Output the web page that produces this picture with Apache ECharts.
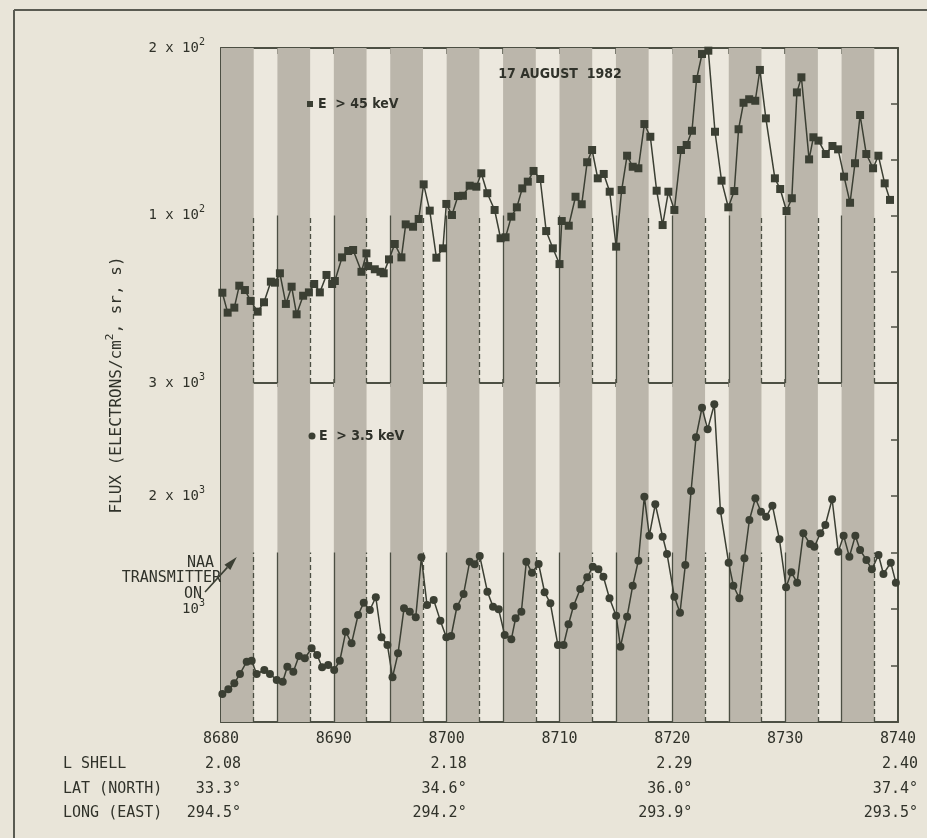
<!DOCTYPE html>
<html>
<head>
<meta charset="utf-8">
<title>Electron flux, 17 August 1982</title>
<script src="https://cdn.jsdelivr.net/npm/echarts/dist/echarts.min.js"></script>
<style>
  html, body { margin: 0; padding: 0; background: #e9e5d9; }
  #chart { width: 927px; height: 838px; }
</style>
</head>
<body>
<div id="chart"></div>
<script>
// Orbit axis
const orbitMin = 8680;
const orbitMax = 8740;
const orbitStep = 5;
const orbitLabels = [8680, 8690, 8700, 8710, 8720, 8730, 8740];

// NAA transmitter-on intervals (start orbit, length in orbits)
const bandStarts = [8680, 8685, 8690, 8695, 8700, 8705, 8710, 8715, 8720, 8725, 8730, 8735];
const bandLength = 2.9;

// E > 45 keV channel
const hiOrbit = [8680.12,8680.59,8681.18,8681.62,8682.12,8682.63,8683.25,8683.81,8684.42,8684.78,
  8685.22,8685.75,8686.26,8686.70,8687.28,8687.79,8688.26,8688.76,8689.35,8689.85,
  8690.09,8690.73,8691.27,8691.71,8692.45,8692.89,8693.04,8693.63,8694.13,8694.42,
  8694.89,8695.40,8695.99,8696.37,8697.02,8697.52,8697.96,8698.50,8699.09,8699.67,
  8699.97,8700.47,8701.00,8701.44,8702.04,8702.63,8703.07,8703.60,8704.25,8704.78,
  8705.22,8705.73,8706.22,8706.70,8707.19,8707.70,8708.29,8708.82,8709.41,8710.00,
  8710.20,8710.82,8711.42,8711.97,8712.45,8712.89,8713.39,8713.92,8714.45,8715.02,
  8715.51,8715.99,8716.49,8716.99,8717.52,8718.05,8718.61,8719.14,8719.65,8720.18,
  8720.77,8721.27,8721.74,8722.15,8722.63,8723.19,8723.78,8724.36,8724.96,8725.49,
  8725.87,8726.31,8726.81,8727.35,8727.76,8728.29,8729.09,8729.56,8730.12,8730.59,
  8731.04,8731.44,8732.12,8732.50,8732.95,8733.60,8734.19,8734.69,8735.22,8735.75,
  8736.19,8736.64,8737.19,8737.79,8738.26,8738.82,8739.29];
const hiFlux = [53.9,42.0,45.0,58.1,55.5,49.0,42.6,48.2,60.5,59.9,
  65.5,47.2,57.5,41.0,52.1,54.1,59.1,54.1,64.5,59.1,
  60.9,75.0,78.8,79.4,66.4,77.4,69.8,67.9,66.4,65.5,
  73.8,83.0,75.0,94.7,93.3,97.9,118.6,102.9,74.8,80.4,
  106.9,100.3,111.6,111.8,117.8,117.2,125.2,113.3,103.3,86.4,
  87.0,99.3,104.9,116.2,120.2,126.6,121.8,90.7,80.4,71.0,
  96.7,93.9,111.2,106.7,131.8,139.1,122.2,124.8,114.2,81.4,
  115.2,135.7,129.1,128.2,154.6,147.0,114.8,94.3,114.2,103.3,
  139.1,142.1,150.6,181.5,196.4,198.4,150.0,120.8,104.9,114.6,
  151.5,167.3,169.4,168.5,186.9,158.0,122.2,115.8,102.7,110.3,
  173.5,182.5,133.5,146.7,144.7,136.7,141.5,139.5,123.2,107.6,
  131.2,160.0,136.7,128.2,135.7,119.2,109.3];

// E > 3.5 keV channel
const loOrbit = [8680.12,8680.65,8681.18,8681.68,8682.28,8682.72,8683.16,8683.84,8684.34,8684.94,
  8685.47,8685.88,8686.41,8686.91,8687.43,8688.03,8688.52,8688.96,8689.50,8690.03,
  8690.53,8691.06,8691.57,8692.15,8692.65,8693.19,8693.72,8694.22,8694.75,8695.20,
  8695.69,8696.22,8696.73,8697.26,8697.76,8698.26,8698.85,8699.44,8699.97,8700.40,
  8700.91,8701.50,8702.04,8702.48,8702.93,8703.61,8704.11,8704.61,8705.14,8705.73,
  8706.11,8706.62,8707.06,8707.56,8708.15,8708.68,8709.19,8709.86,8710.36,8710.80,
  8711.24,8711.84,8712.46,8712.95,8713.45,8713.89,8714.43,8715.02,8715.40,8715.99,
  8716.49,8716.99,8717.52,8717.96,8718.49,8719.14,8719.53,8720.18,8720.68,8721.15,
  8721.66,8722.10,8722.63,8723.13,8723.72,8724.26,8724.99,8725.41,8725.94,8726.39,
  8726.83,8727.36,8727.86,8728.31,8728.87,8729.49,8730.08,8730.55,8731.06,8731.61,
  8732.21,8732.59,8733.12,8733.56,8734.16,8734.71,8735.18,8735.69,8736.22,8736.64,
  8737.20,8737.68,8738.27,8738.71,8739.36,8739.81];
const loFlux = [248,289,342,425,534,542,425,460,425,372,
  357,489,445,584,564,652,593,484,504,460,
  542,799,696,947,1056,991,1104,750,681,396,
  608,1006,976,927,1458,1035,1080,897,750,761,
  1020,1133,1419,1396,1469,1153,1020,997,770,732,
  918,976,1419,1321,1398,1148,1050,681,681,865,
  1027,1177,1281,1374,1351,1286,1095,941,666,932,
  1206,1428,1994,1649,1927,1640,1487,1109,967,1389,
  2044,2520,2782,2590,2812,1870,1410,1206,1095,1449,
  1788,1980,1861,1817,1914,1617,1192,1325,1233,1670,
  1575,1551,1670,1743,1971,1507,1649,1463,1649,1522,
  1434,1351,1478,1310,1410,1233];

// Flux axes: ranges, tick spacing and labelled ticks (mantissa + exponent)
const hiRange = [0, 200];
const hiStep = 200 / 6;
const hiTickValues = [100, 200];
const hiTickText = ['1 x 10', '2 x 10'];
const hiTickExp = '2';
const hiGuideTop = 100;

const loRange = [0, 3000];
const loStep = 500;
const loTickValues = [1000, 2000, 3000];
const loTickText = ['10', '2 x 10', '3 x 10'];
const loTickExp = '3';
const loGuideTop = 1500;

// Orbit-position table under the axis
const tableOrbits = [8680, 8700, 8720, 8740];
const tableRowNames = ['L SHELL', 'LAT (NORTH)', 'LONG (EAST)'];
const lShell = ['2.08', '2.18', '2.29', '2.40'];
const latNorth = ['33.3°', '34.6°', '36.0°', '37.4°'];
const longEast = ['294.5°', '294.2°', '293.9°', '293.5°'];

const INK = '#3b3f33';
const AXIS = '#4c4f43';
const TEXT = '#30322a';
const BAND = '#bbb6ab';
const MONO = '"DejaVu Sans Mono", "Liberation Mono", monospace';
const BOLD = '"DejaVu Sans Condensed", "DejaVu Sans", sans-serif';

const chart = echarts.init(document.getElementById('chart'), null, { renderer: 'canvas' });

function zip(xs, ys) { return xs.map((x, i) => [x, ys[i]]); }

function fluxLabel(values, texts, exp) {
  return function (v) {
    for (let i = 0; i < values.length; i++) {
      if (Math.abs(v - values[i]) < 1e-6) return '{n|' + texts[i] + '}{s|' + exp + '}';
    }
    return '';
  };
}

const richSup = {
  n: { fontFamily: MONO, fontSize: 14, color: TEXT, lineHeight: 22 },
  s: { fontFamily: MONO, fontSize: 10, color: TEXT, verticalAlign: 'top', lineHeight: 12 }
};

function xAxis(grid, position, tickLen, showLabel) {
  return {
    type: 'value', gridIndex: grid, position: position,
    min: orbitMin, max: orbitMax, interval: orbitStep,
    axisLine: { show: true, onZero: false, lineStyle: { color: AXIS, width: 2 } },
    axisTick: { show: tickLen > 0, inside: true, length: tickLen, lineStyle: { color: AXIS, width: 1.5 } },
    axisLabel: {
      show: showLabel, margin: 10, fontFamily: MONO, fontSize: 15, color: TEXT,
      formatter: v => orbitLabels.includes(v) ? String(v) : ''
    },
    splitLine: { show: false }
  };
}

function yAxis(grid, position, range, step, tickLen, formatter) {
  return {
    type: 'value', gridIndex: grid, position: position,
    min: range[0], max: range[1], interval: step,
    axisLine: { show: true, onZero: false, lineStyle: { color: AXIS, width: 2 } },
    axisTick: { show: true, inside: true, length: tickLen, lineStyle: { color: AXIS, width: 1.5 } },
    axisLabel: formatter ? { show: true, margin: 16, formatter: formatter, rich: richSup } : { show: false },
    splitLine: { show: false }
  };
}

function bandAreas() {
  return bandStarts.map(s => [{ xAxis: s }, { xAxis: s + bandLength }]);
}

function bandGuides(top) {
  const lines = [];
  bandStarts.forEach((s, i) => {
    if (i > 0) {
      lines.push([{ coord: [s, 0], lineStyle: { type: 'solid' } }, { coord: [s, top] }]);
    }
    lines.push([{ coord: [s + bandLength, 0], lineStyle: { type: [5, 3] } }, { coord: [s + bandLength, top] }]);
  });
  return lines;
}

function fluxSeries(name, xi, yi, data, symbol, guideTop) {
  return {
    name: name, type: 'line', xAxisIndex: xi, yAxisIndex: yi,
    data: data, symbol: symbol, symbolSize: 8, showAllSymbol: true,
    itemStyle: { color: INK },
    lineStyle: { color: INK, width: 1.5 },
    animation: false, silent: true, z: 5,
    markArea: {
      silent: true,
      itemStyle: { color: BAND },
      data: bandAreas()
    },
    markLine: {
      silent: true, symbol: ['none', 'none'], label: { show: false },
      lineStyle: { color: AXIS, width: 1.3 },
      data: bandGuides(guideTop)
    }
  };
}

const option = {
  backgroundColor: '#e9e5d9',
  animation: false,
  grid: [
    { left: 221, right: 29, top: 48, height: 335, backgroundColor: '#ece8de', show: true, borderWidth: 0 },
    { left: 221, right: 29, top: 383, height: 339, backgroundColor: '#ece8de', show: true, borderWidth: 0 }
  ],
  xAxis: [
    xAxis(0, 'bottom', 4, false),
    xAxis(0, 'top', 6, false),
    xAxis(1, 'bottom', 0, true),
    xAxis(1, 'top', 4, false)
  ],
  yAxis: [
    yAxis(0, 'left', hiRange, hiStep, 11, fluxLabel(hiTickValues, hiTickText, hiTickExp)),
    yAxis(0, 'right', hiRange, hiStep, 7, null),
    yAxis(1, 'left', loRange, loStep, 11, fluxLabel(loTickValues, loTickText, loTickExp)),
    yAxis(1, 'right', loRange, loStep, 7, null)
  ],
  series: [
    fluxSeries('E > 45 keV', 0, 0, zip(hiOrbit, hiFlux), 'rect', hiGuideTop),
    fluxSeries('E > 3.5 keV', 2, 2, zip(loOrbit, loFlux), 'circle', loGuideTop)
  ]
};

chart.setOption(option);

// Annotations and the orbit table, placed with the chart's own scales
const px = (v) => chart.convertToPixel({ xAxisIndex: 2 }, v);
const graphics = [];
const TOP = 100;

// page frame
graphics.push({ type: 'line', z: TOP, shape: { x1: 14, y1: 10, x2: 927, y2: 10 }, style: { stroke: '#5a5b52', lineWidth: 2 } });
graphics.push({ type: 'line', z: TOP, shape: { x1: 14, y1: 10, x2: 14, y2: 838 }, style: { stroke: '#5a5b52', lineWidth: 2 } });

// vertical axis title
graphics.push({
  type: 'text', z: TOP, x: 117, y: 385, rotation: Math.PI / 2,
  style: {
    text: '{t|FLUX (ELECTRONS/cm}{s|2}{t|, sr, s)}',
    align: 'center', verticalAlign: 'middle',
    rich: {
      t: { fontFamily: MONO, fontSize: 16, fill: TEXT, lineHeight: 24 },
      s: { fontFamily: MONO, fontSize: 11, fill: TEXT, verticalAlign: 'top', lineHeight: 12 }
    }
  }
});

// date
graphics.push({
  type: 'text', z: TOP, x: 560, y: 74,
  style: { text: '17 AUGUST  1982', fontFamily: BOLD, fontWeight: 'bold', fontSize: 14, fill: TEXT, align: 'center', verticalAlign: 'middle' }
});

// channel keys
graphics.push({ type: 'rect', z: TOP, shape: { x: 307, y: 101, width: 6, height: 6 }, style: { fill: INK } });
graphics.push({
  type: 'text', z: TOP, x: 318, y: 104,
  style: { text: 'E  > 45 keV', fontFamily: BOLD, fontWeight: 'bold', fontSize: 14, fill: TEXT, align: 'left', verticalAlign: 'middle' }
});
graphics.push({ type: 'circle', z: TOP, shape: { cx: 312, cy: 436, r: 3.5 }, style: { fill: INK } });
graphics.push({
  type: 'text', z: TOP, x: 319, y: 436,
  style: { text: 'E  > 3.5 keV', fontFamily: BOLD, fontWeight: 'bold', fontSize: 14, fill: TEXT, align: 'left', verticalAlign: 'middle' }
});

// transmitter note with arrow
const noteStyle = { fontFamily: MONO, fontSize: 15, fill: TEXT, align: 'right', verticalAlign: 'middle' };
graphics.push({ type: 'text', z: TOP, x: 214, y: 563, style: Object.assign({ text: 'NAA' }, noteStyle) });
graphics.push({ type: 'text', z: TOP, x: 221, y: 578, style: Object.assign({ text: 'TRANSMITTER' }, noteStyle) });
graphics.push({ type: 'text', z: TOP, x: 202, y: 594, style: Object.assign({ text: 'ON' }, noteStyle) });
const tip = chart.convertToPixel({ xAxisIndex: 2, yAxisIndex: 2 }, [8681.4, 1460]);
const tail = [205, 592];
const ang = Math.atan2(tip[1] - tail[1], tip[0] - tail[0]);
const headLen = 14, headW = 4;
const bx = tip[0] - headLen * Math.cos(ang), by = tip[1] - headLen * Math.sin(ang);
graphics.push({ type: 'line', z: TOP, shape: { x1: tail[0], y1: tail[1], x2: bx, y2: by }, style: { stroke: INK, lineWidth: 1.6 } });
graphics.push({
  type: 'polygon', z: TOP,
  shape: { points: [tip, [bx + headW * Math.sin(ang), by - headW * Math.cos(ang)], [bx - headW * Math.sin(ang), by + headW * Math.cos(ang)]] },
  style: { fill: INK }
});

// orbit table
const tableValues = [lShell, latNorth, longEast];
const rowY = [764, 789, 813];
tableRowNames.forEach((name, r) => {
  graphics.push({
    type: 'text', z: TOP, x: 63, y: rowY[r],
    style: { text: name, fontFamily: MONO, fontSize: 15, fill: TEXT, align: 'left', verticalAlign: 'middle' }
  });
  tableValues[r].forEach((val, c) => {
    graphics.push({
      type: 'text', z: TOP, x: px(tableOrbits[c]) + 20, y: rowY[r],
      style: { text: val, fontFamily: MONO, fontSize: 15, fill: TEXT, align: 'right', verticalAlign: 'middle' }
    });
  });
});

chart.setOption({ graphic: graphics });
</script>
</body>
</html>
